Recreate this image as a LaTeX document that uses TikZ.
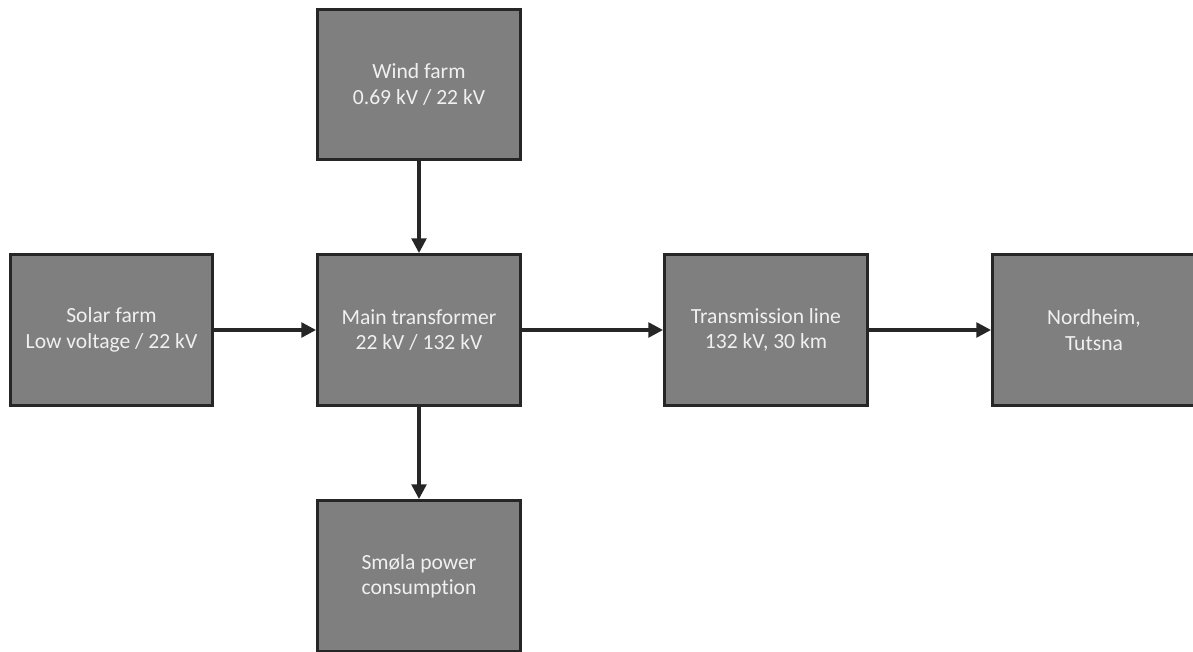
\documentclass[tikz,border=0pt]{standalone}
\usepackage{fontspec}
\setmainfont[Ligatures=NoCommon]{Carlito}
\usetikzlibrary{arrows.meta}

\definecolor{boxfill}{HTML}{7F7F7F}
\definecolor{boxline}{HTML}{262626}
\definecolor{boxtext}{HTML}{F0F0F0}

\tikzset{
	unit/.style={draw=boxline, fill=boxfill, line width=2.4pt,
		minimum width=152pt, minimum height=113pt, inner sep=0pt,
		align=center, text=boxtext, font=\fontsize{16.2}{19}\selectfont},
	flow/.style={draw=boxline, line width=2.4pt, -{Triangle[length=11pt,width=11pt]}}
}

\begin{document}
\begin{tikzpicture}[x=0.75pt,y=-0.75pt]
	\useasboundingbox (0,0) rectangle (1193,652);
	\node[unit] (wind) at (419,84.5) {Wind farm\\0.69 kV / 22 kV};
	\node[unit] (solar) at (111.5,330) {Solar farm\\Low voltage / 22 kV};
	\node[unit] (main) at (419,330) {Main transformer\\22 kV / 132 kV};
	\node[unit] (line) at (766,330) {Transmission line\\132 kV, 30 km};
	\node[unit] (nord) at (1094,330) {Nordheim,\\Tutsna};
	\node[unit] (smola) at (419,576) {Smøla power\\consumption};

	\draw[flow] (wind) -- (main);
	\draw[flow] (solar) -- (main);
	\draw[flow] (main) -- (line);
	\draw[flow] (line) -- (nord);
	\draw[flow] (main) -- (smola);
\end{tikzpicture}
\end{document}
